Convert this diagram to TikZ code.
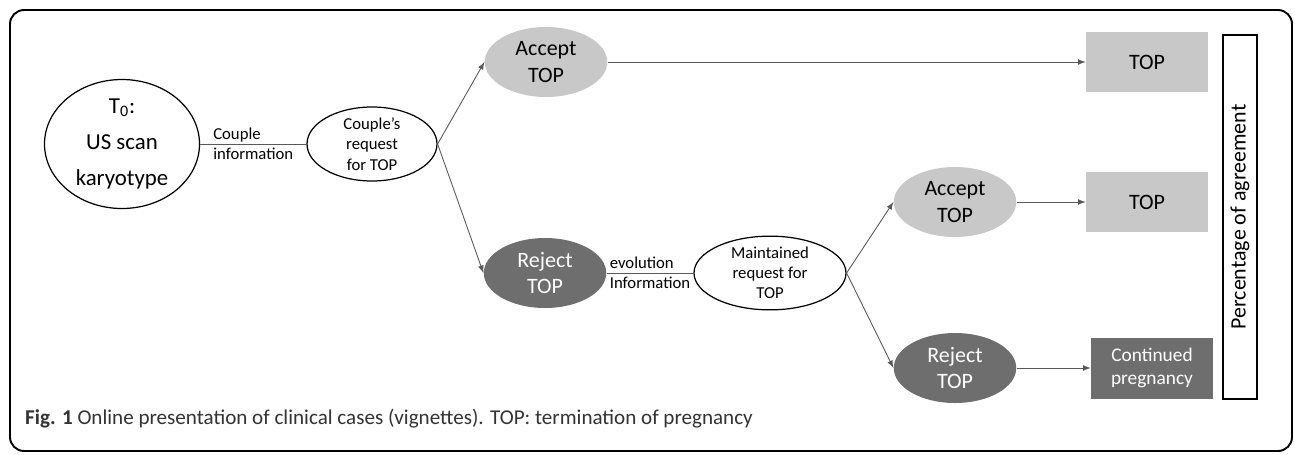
\documentclass[tikz,border=0pt]{standalone}
\usepackage{fontspec}
\setmainfont{Carlito}
\usetikzlibrary{shapes.geometric}
\definecolor{lightgr}{RGB}{200,200,200}
\definecolor{darkgr}{RGB}{110,110,110}
\begin{document}
\begin{tikzpicture}
		\tikzstyle{start}=[draw,
			ellipse,
			inner sep=0pt,
			line width=0.7pt,
			align=center,
			];
		\tikzstyle{accept}=[ellipse,
			fill=lightgr,
			inner sep=0pt,
			minimum width=2.45cm,minimum height=1.4cm,
			align=center,
			font=\fontsize{12.5}{15}\selectfont,
			];
		\tikzstyle{reject}=[accept,
			fill=darkgr,
			text=white,
			];
		\tikzstyle{outcome}=[rectangle,
			fill=lightgr,
			minimum width=2.44cm,minimum height=1.2cm,
			align=center,
			font=\fontsize{12.5}{15}\selectfont,
			];
		\tikzstyle{info}=[align=left,
			font=\fontsize{9.5}{11.5}\selectfont,
			];
		\tikzstyle{arr}=[-latex,
			draw=black!65,
			line width=0.5pt,
			];

		\useasboundingbox (0,0) rectangle (25.9,9.08);
		\draw [line width=1.1pt,rounded corners=8pt] (0.2,0.06) rectangle (25.84,8.88);

		\node [start] (t0) at (2.44,6.2) [minimum width=3.1cm,minimum height=2.58cm,
			font=\fontsize{13}{20.5}\selectfont] {T\textsubscript{0}:\\US scan\\karyotype};
		\node [start] (couple) at (7.44,6.2) [minimum width=2.6cm,minimum height=1.48cm,
			font=\fontsize{9.5}{11.5}\selectfont] {Couple’s\\request\\for TOP};
		\node [accept] (acc1) at (10.92,7.84) {Accept\\TOP};
		\node [reject] (rej1) at (10.9,3.62) {Reject\\TOP};
		\node [start] (maint) at (15.4,3.62) [minimum width=3.04cm,minimum height=1.44cm,
			font=\fontsize{9.5}{11.5}\selectfont] {Maintained\\request for\\TOP};
		\node [accept] (acc2) at (19.1,5.04) {Accept\\TOP};
		\node [reject] (rej2) at (19.1,1.72) {Reject\\TOP};

		\node [outcome] (top1) at (22.94,7.84) {TOP};
		\node [outcome] (top2) at (22.94,5.04) {TOP};
		\node [outcome] (cont) at (23.04,1.72) [fill=darkgr,text=white,minimum height=1.22cm,
			font=\fontsize{11}{13.5}\selectfont] {Continued\\pregnancy};

		\node [draw,line width=0.6pt] (pct) at (24.8,4.74) [minimum width=7.28cm,minimum height=0.68cm,
			rotate=90,font=\fontsize{12.5}{15}\selectfont] {Percentage of agreement};

		\draw [draw=black!65,line width=0.5pt] (t0) -- node [info] {Couple\\information} (couple);
		\draw [draw=black!65,line width=0.5pt] (rej1) -- node [info] {evolution\\Information} (maint);
		\draw [arr] (couple.east) -- (acc1.west);
		\draw [arr] (couple.east) -- (rej1.west);
		\draw [arr] (acc1) -- (top1);
		\draw [arr] (maint.east) -- (acc2.west);
		\draw [arr] (maint.east) -- (rej2.west);
		\draw [arr] (acc2) -- (top2);
		\draw [arr] (rej2) -- (cont);

		\node (caption) at (0.38,0.7) [anchor=west,text=black!80,font=\fontsize{12}{14}\selectfont]
			{\textbf{Fig. 1} Online presentation of clinical cases (vignettes). TOP: termination of pregnancy};
	\end{tikzpicture}
\end{document}
